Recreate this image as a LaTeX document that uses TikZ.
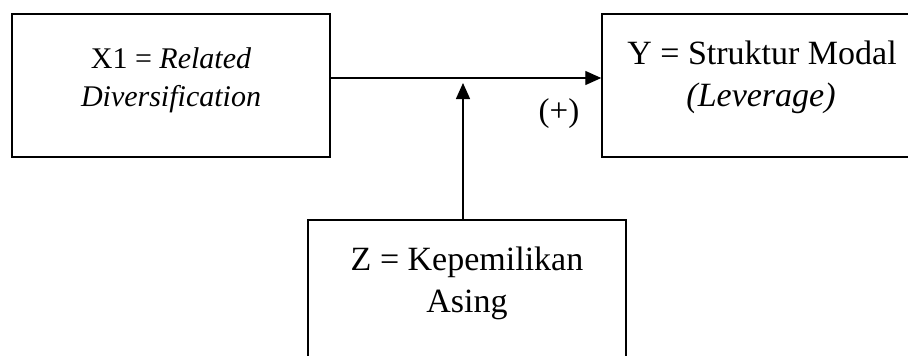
\documentclass[tikz,border=0pt]{standalone}
\usepackage{fontspec}
\setmainfont{Liberation Serif}
\usetikzlibrary{arrows.meta}
\begin{document}
\begin{tikzpicture}[x=1pt,y=-1pt,
  box/.style={draw=black,line width=1.5pt,minimum width=#1,inner sep=0pt,minimum height=143pt},
  lbl/.style={anchor=base,inner sep=0pt},
  arr/.style={line width=1.4pt,-{Triangle[length=16pt,width=14pt]}}]
\useasboundingbox (0,0) rectangle (908,356);
\clip (0,0) rectangle (908,356);
\fill[white] (0,0) rectangle (908,356);
\node[box=318pt] (x1) at (171,85.5) {};
\node[box=320pt] (y) at (762,85.5) {};
\node[box=318pt,minimum height=170pt] (z) at (467,305) {};
\node[lbl,font=\fontsize{30}{36}\selectfont] (x1a) at (171,68) {X1 = \textit{Related}};
\node[lbl,font=\fontsize{30}{36}\selectfont] (x1b) at (171,106) {\textit{Diversification}};
\node[lbl,font=\fontsize{34}{41}\selectfont] (ya) at (762,64) {Y = Struktur Modal};
\node[lbl,font=\fontsize{34}{41}\selectfont] (yb) at (761,106) {\textit{(Leverage)}};
\node[lbl,font=\fontsize{34}{41}\selectfont] (za) at (467,270) {Z = Kepemilikan};
\node[lbl,font=\fontsize{34}{41}\selectfont] (zb) at (467,312) {Asing};
\node[lbl,font=\fontsize{33}{40}\selectfont] (plus) at (559,121) {(+)};
\coordinate (h) at (0,78);
\coordinate (m) at (463,83);
\draw[arr] (x1.east |- h) -- (y.west |- h);
\draw[arr] (z.north -| m) -- (m);
\end{tikzpicture}
\end{document}
